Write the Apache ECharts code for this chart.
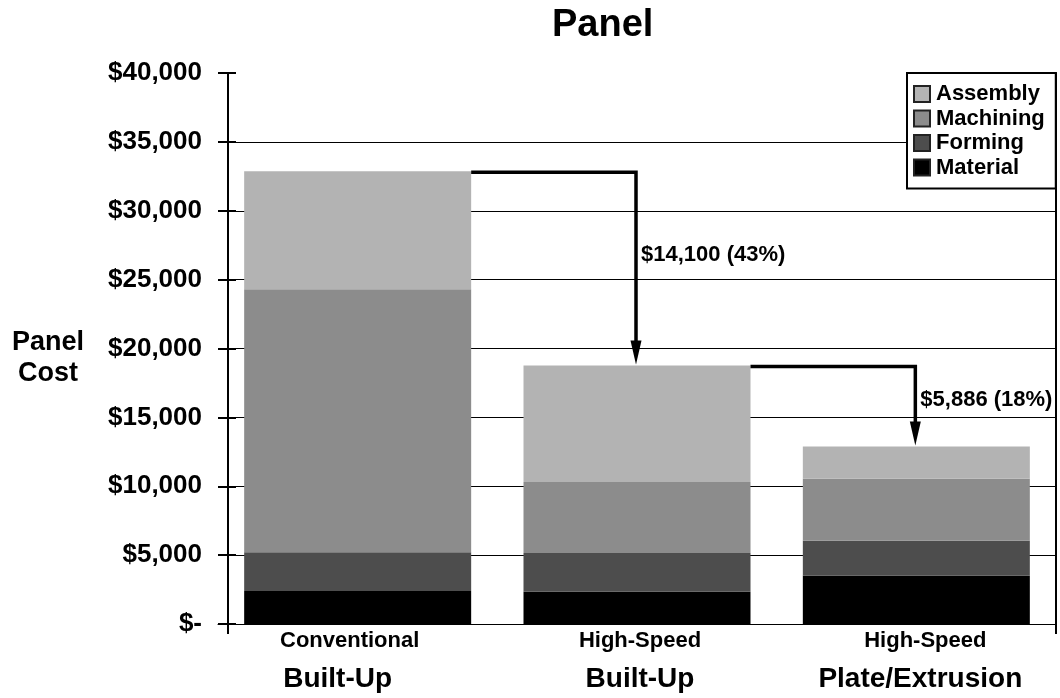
<!DOCTYPE html>
<html>
<head>
<meta charset="utf-8">
<script src="https://cdn.jsdelivr.net/npm/echarts@6/dist/echarts.min.js"></script>
<style>
  html, body { margin: 0; padding: 0; background: #fff; }
  #chart { width: 1060px; height: 698px; }
</style>
</head>
<body>
<div id="chart"></div>
<script>
// ---- data ----
const categoriesTop = ['Conventional', 'High-Speed', 'High-Speed'];
const categoriesMain = ['Built-Up', 'Built-Up', 'Plate/Extrusion'];
const material = [2400, 2350, 3500];
const forming = [2800, 2800, 2550];
const machining = [19100, 5150, 4500];
const assembly = [8570, 8470, 2334];
const savings = [14100, 5886];
const savingsPct = [43, 18];
const yMin = 0, yMax = 40000, yStep = 5000;

// ---- layout tweaks (label horizontal nudges, px; negative = left) ----
const topNudge = [-8, 3, 9];
const mainNudge = [-20, 3, 4];

// ---- derived ----
const FONT = '"Liberation Sans", Arial, Helvetica, sans-serif';
const BAR_W = 227;
const totals = material.map((v, i) => v + forming[i] + machining[i] + assembly[i]);
const categoryNames = categoriesTop.map((t, i) => t + ' ' + categoriesMain[i]);
const arrowData = savings.map((s, i) => [i, totals[i], totals[i + 1]]);
const fmtMoney = v => '$' + v.toLocaleString('en-US');
const nudgePad = n => n < 0 ? [0, -2 * n, 0, 0] : [0, 0, 0, 2 * n];

const rich = {};
categoriesTop.forEach((_, i) => {
  rich['a' + i] = { fontFamily: FONT, fontWeight: 'bold', fontSize: 22, lineHeight: 30, color: '#000', padding: nudgePad(topNudge[i]) };
  rich['b' + i] = { fontFamily: FONT, fontWeight: 'bold', fontSize: 28, lineHeight: 46, color: '#000', padding: nudgePad(mainNudge[i]) };
});

const chart = echarts.init(document.getElementById('chart'), null, { renderer: 'canvas' });

const option = {
  animation: false,
  backgroundColor: '#fff',
  textStyle: { fontFamily: FONT },
  title: {
    text: 'Panel',
    left: 552,
    top: 7,
    padding: 0,
    textStyle: { fontFamily: FONT, fontWeight: 'bold', fontSize: 38, color: '#000' }
  },
  legend: {
    orient: 'vertical',
    left: 907,
    top: 73,
    padding: [10, 11, 10, 6],
    itemGap: 2.5,
    itemWidth: 16,
    itemHeight: 16,
    backgroundColor: '#fff',
    borderColor: '#000',
    borderWidth: 2,
    borderRadius: 0,
    icon: 'rect',
    itemStyle: { borderColor: '#222', borderWidth: 2 },
    textStyle: { fontFamily: FONT, fontWeight: 'bold', fontSize: 22, color: '#000', padding: [0, 0, 0, 1] },
    data: ['Assembly', 'Machining', 'Forming', 'Material']
  },
  grid: { left: 218, right: 4, top: 73, bottom: 74, containLabel: false },
  xAxis: [
    {
      type: 'category',
      data: categoryNames,
      axisLine: { show: true, lineStyle: { color: '#000', width: 1 } },
      axisTick: { show: false },
      axisLabel: {
        margin: 2,
        interval: 0,
        formatter: (v, idx) => '{a' + idx + '|' + categoriesTop[idx] + '}\n{b' + idx + '|' + categoriesMain[idx] + '}',
        rich: rich
      }
    },
    {
      type: 'value',
      position: 'bottom',
      min: 0, max: 838, interval: 838,
      axisLine: { show: false },
      axisLabel: { show: false },
      splitLine: { show: false },
      axisTick: { show: true, length: 10, customValues: [10, 838], lineStyle: { color: '#000', width: 2 } }
    }
  ],
  yAxis: [
    {
      type: 'value',
      min: yMin, max: yMax, interval: yStep,
      offset: -10,
      name: '{s| }\n{a|Panel}\n{a|Cost}',
      nameLocation: 'middle',
      nameRotate: 0,
      nameGap: 180,
      nameTextStyle: {
        fontFamily: FONT, fontWeight: 'bold', fontSize: 27, color: '#000',
        align: 'center', verticalAlign: 'middle',
        rich: {
          s: { fontSize: 10, lineHeight: 20 },
          a: { fontFamily: FONT, fontWeight: 'bold', fontSize: 27, lineHeight: 31, color: '#000', align: 'center' }
        }
      },
      axisLine: { show: true, lineStyle: { color: '#000', width: 2 } },
      axisTick: { show: true, length: 10, lineStyle: { color: '#000', width: 2 } },
      axisLabel: {
        margin: 26,
        fontFamily: FONT, fontWeight: 'bold', fontSize: 26, color: '#000',
        formatter: v => v === 0 ? '$-' : fmtMoney(v)
      },
      splitLine: { show: true, showMinLine: true, showMaxLine: false, lineStyle: { color: '#000', width: 1 } }
    },
    {
      type: 'value',
      min: yMin, max: yMax, interval: yStep,
      position: 'left',
      offset: -10,
      axisLine: { show: false },
      axisLabel: { show: false },
      splitLine: { show: false },
      axisTick: { show: true, inside: true, length: 8, lineStyle: { color: '#000', width: 2 } }
    },
    {
      type: 'value',
      min: yMin, max: yMax, interval: yStep,
      position: 'right',
      axisLine: { show: true, lineStyle: { color: '#000', width: 2 } },
      axisLabel: { show: false },
      axisTick: { show: false },
      splitLine: { show: false }
    }
  ],
  series: [
    { name: 'Material', type: 'bar', stack: 'cost', data: material, barWidth: BAR_W, itemStyle: { color: '#000000' } },
    { name: 'Forming', type: 'bar', stack: 'cost', data: forming, barWidth: BAR_W, itemStyle: { color: '#4d4d4d' } },
    { name: 'Machining', type: 'bar', stack: 'cost', data: machining, barWidth: BAR_W, itemStyle: { color: '#8c8c8c' } },
    { name: 'Assembly', type: 'bar', stack: 'cost', data: assembly, barWidth: BAR_W, itemStyle: { color: '#b3b3b3' } },
    {
      name: 'arrows',
      type: 'custom',
      coordinateSystem: 'cartesian2d',
      xAxisIndex: 0,
      yAxisIndex: 0,
      clip: false,
      silent: true,
      z: 10,
      encode: { x: 0, y: [1, 2] },
      data: arrowData,
      renderItem: (params, api) => {
        const i = api.value(0);
        const from = api.value(1);
        const to = api.value(2);
        const a = api.coord([i, from]);
        const b = api.coord([i + 1, from]);
        const c = api.coord([i + 1, to]);
        const x0 = a[0] + BAR_W / 2;
        const y0 = a[1] + 1;
        const xv = b[0] - 1;
        const tipY = c[1] - 1;
        const headLen = 24, headHalf = 5.5;
        const labelY = api.coord([i + 1, from - 0.43 * (from - to)])[1];
        const idx = params.dataIndex;
        return {
          type: 'group',
          children: [
            {
              type: 'polyline',
              shape: { points: [[x0, y0], [xv, y0], [xv, tipY - headLen + 2]] },
              style: { stroke: '#000', lineWidth: 3.5, fill: 'none' }
            },
            {
              type: 'polygon',
              shape: { points: [[xv - headHalf, tipY - headLen], [xv + headHalf, tipY - headLen], [xv, tipY]] },
              style: { fill: '#000' }
            },
            {
              type: 'text',
              x: xv + 5,
              y: labelY,
              style: {
                text: fmtMoney(savings[idx]) + ' (' + savingsPct[idx] + '%)',
                font: 'bold 22px ' + FONT,
                fill: '#000',
                align: 'left',
                verticalAlign: 'middle'
              }
            }
          ]
        };
      }
    }
  ]
};

chart.setOption(option);
</script>
</body>
</html>
